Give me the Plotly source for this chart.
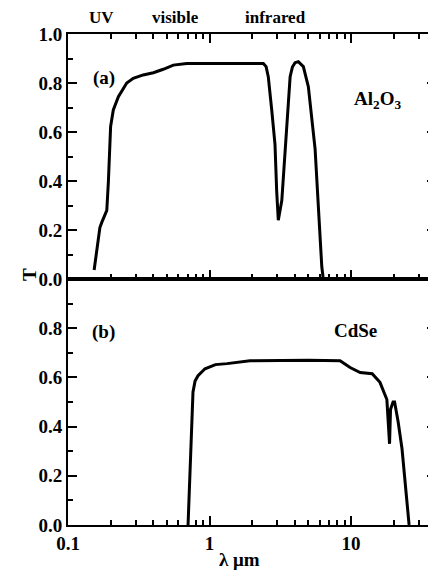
import plotly.graph_objects as go

# Al2O3 transmission (panel a)
al_lambda = [0.153, 0.163, 0.168, 0.173, 0.188, 0.193, 0.198, 0.200, 0.209, 0.227, 0.260,
             0.289, 0.340, 0.401, 0.471, 0.555, 0.690, 0.812, 2.40, 2.51, 2.60, 2.75, 2.90,
             2.98, 3.06, 3.24, 3.42, 3.61, 3.71, 3.85, 4.02, 4.24, 4.60, 4.99, 5.28, 5.57,
             5.84, 6.03, 6.21, 6.34]
al_T = [0.037, 0.15, 0.21, 0.23, 0.28, 0.40, 0.555, 0.622, 0.69, 0.744, 0.80,
        0.819, 0.833, 0.842, 0.856, 0.873, 0.880, 0.880, 0.880, 0.867, 0.826, 0.69, 0.55,
        0.36, 0.24, 0.32, 0.53, 0.73, 0.826, 0.865, 0.883, 0.887, 0.867, 0.785, 0.66, 0.53,
        0.32, 0.17, 0.05, 0.008]

# CdSe transmission (panel b)
cd_lambda = [0.705, 0.728, 0.752, 0.764, 0.790, 0.829, 0.929, 1.10, 1.33, 1.93, 5.0, 8.36,
             9.84, 11.6, 14.1, 16.0, 17.9, 18.7, 19.0, 19.8, 20.3, 21.5, 22.9, 24.1, 25.3, 25.7]
cd_T = [0.0, 0.254, 0.459, 0.541, 0.585, 0.607, 0.635, 0.652, 0.656, 0.668, 0.67, 0.668,
        0.64, 0.62, 0.615, 0.58, 0.51, 0.33, 0.47, 0.50, 0.50, 0.42, 0.31, 0.17, 0.03, 0.0]

x_major = [0.1, 1, 10]
x_major_text = ["0.1", "1", "10"]
x_minor = [0.2, 0.3, 0.4, 0.5, 0.6, 0.7, 0.8, 0.9, 2, 3, 4, 5, 6, 7, 8, 9, 20, 30]
y_top_ticks = [0.0, 0.2, 0.4, 0.6, 0.8, 1.0]
y_top_text = ["0.0", "0.2", "0.4", "0.6", "0.8", "1.0"]
y_bot_ticks = [0.0, 0.2, 0.4, 0.6, 0.8]
y_bot_text = ["0.0", "0.2", "0.4", "0.6", "0.8"]
y_minor = [0.1, 0.3, 0.5, 0.7, 0.9]

FONT = "Liberation Serif, Times New Roman, serif"
FS = 19

fig = go.Figure()
fig.add_trace(go.Scatter(x=al_lambda, y=al_T, mode="lines", xaxis="x2", yaxis="y2",
                         line=dict(color="black", width=3), showlegend=False))
fig.add_trace(go.Scatter(x=cd_lambda, y=cd_T, mode="lines", xaxis="x", yaxis="y",
                         line=dict(color="black", width=3), showlegend=False))

tf = dict(family=FONT, size=FS, color="black", weight="bold")
xr = [-1.0, 1.60]
common_x = dict(type="log", range=xr, showline=True, linecolor="black", linewidth=2,
                ticks="inside", ticklen=9, tickwidth=1.5, tickcolor="black",
                tickvals=x_major, showgrid=False, zeroline=False, automargin=False,
                minor=dict(tickvals=x_minor, ticks="inside", ticklen=5, tickwidth=1.5,
                           tickcolor="black", showgrid=False),
                tickfont=tf)
common_y = dict(range=[0, 1.0], showline=True, linecolor="black", linewidth=2,
                ticks="inside", ticklen=9, tickwidth=1.5, tickcolor="black",
                showgrid=False, zeroline=False, mirror="ticks", automargin=False,
                minor=dict(tickvals=y_minor, ticks="inside", ticklen=5, tickwidth=1.5,
                           tickcolor="black", showgrid=False),
                tickfont=tf)

# page has an 8px body margin: shift everything by -8
fig.update_layout(
    width=428, height=564,
    margin=dict(l=60, r=0, t=26, b=47),
    paper_bgcolor="white", plot_bgcolor="white",
    font=dict(family=FONT, size=FS, color="black"),
    xaxis=dict(common_x, ticktext=x_major_text, anchor="y", mirror=True),
    yaxis=dict(common_y, domain=[0, 0.501], tickvals=y_bot_ticks, ticktext=y_bot_text, anchor="x"),
    xaxis2=dict(common_x, showticklabels=False, anchor="y2", mirror="ticks"),
    yaxis2=dict(common_y, domain=[0.501, 1.0], tickvals=y_top_ticks, ticktext=y_top_text, anchor="x2"),
)

ann = [
    ("UV", 0.092, 1.033, 17),
    ("visible", 0.293, 1.033, 17),
    ("infrared", 0.5625, 1.033, 17),
    ("(a)", 0.0965, 0.910, FS),
    ("Al<sub>2</sub>O<sub>3</sub>", 0.840, 0.866, FS),
    ("(b)", 0.0965, 0.393, FS),
    ("CdSe", 0.780, 0.397, FS),
    ("λ μm", 0.467, -0.071, FS),
]
for t, x, y, s in ann:
    fig.add_annotation(text=t, x=x, y=y, xref="paper", yref="paper", showarrow=False,
                       xanchor="center", yanchor="middle", borderpad=0,
                       font=dict(family=FONT, size=s, color="black", weight="bold"))
fig.add_annotation(text="T", x=-0.139, y=0.51, xref="paper", yref="paper", showarrow=False,
                   textangle=-90, font=dict(family=FONT, size=FS, color="black", weight="bold"))

fig.write_html("out.html")
